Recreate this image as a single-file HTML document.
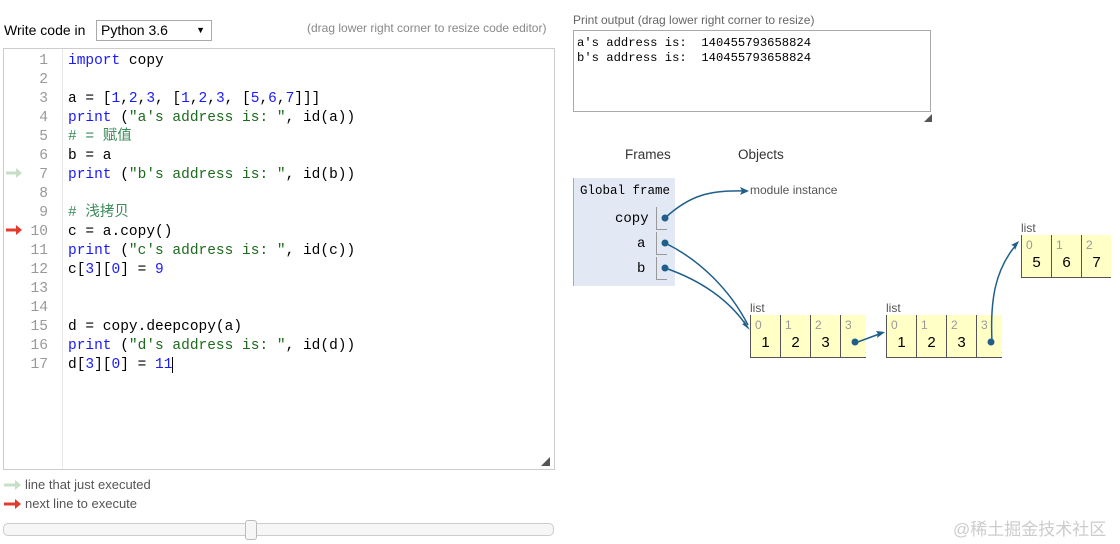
<!DOCTYPE html><html><head><meta charset="utf-8"><style>
body{margin:0;width:1120px;height:544px;background:#fff;position:relative;overflow:hidden;font-family:"Liberation Sans","Noto Sans CJK SC",sans-serif}
.a{position:absolute;white-space:pre}
.m{font-family:"Liberation Mono","Noto Sans CJK SC",monospace}
.ln{position:absolute;left:14px;width:34px;text-align:right;color:#999;font-family:"Liberation Mono",monospace;font-size:14.6px;line-height:19px}
.cl{position:absolute;left:68px;font-family:"Liberation Mono","Noto Sans CJK SC",monospace;font-size:14.5px;line-height:19px;height:19px;color:#000;white-space:pre}
.k{color:#1a1aff}.n{color:#1a1aff}.s{color:#1d6b1d}.c{color:#3b8a5a}
.cell{position:absolute;height:42px;border-left:1px solid #555;border-bottom:1px solid #555;background:#ffffc6;width:29px}
.cell i{position:absolute;left:4px;top:3px;font-style:normal;font-size:12px;color:#999}
.cell b{position:absolute;left:0;right:0;top:19px;text-align:center;font-weight:normal;font-size:15px;font-family:"Liberation Sans",sans-serif}
.lbl{position:absolute;font-size:12px;color:#555}
</style></head><body>
<div class="a" style="left:4px;top:22px;font-size:14px;color:#000">Write code in</div>
<div class="a" style="left:96px;top:20px;border:1px solid #aaa;font-size:14px;line-height:19px;padding-left:4px;box-sizing:border-box;width:116px;height:21px">Python 3.6<span style="position:absolute;right:6px;font-size:9px">▼</span></div>
<div class="a" style="left:307px;top:21px;font-size:12px;color:#888">(drag lower right corner to resize code editor)</div>
<div class="a" style="left:3px;top:48px;width:550px;height:420px;border:1px solid #ccc"></div>
<div class="a" style="left:62px;top:49px;width:1px;height:420px;background:#e8e8e8"></div>
<div class="a" style="left:541px;top:455px;font-size:9px;color:#555">◢</div>
<div class="a" style="left:0;top:2px;width:560px;height:400px">
<div class="ln" style="top:50px">1</div><div class="ln" style="top:69px">2</div><div class="ln" style="top:88px">3</div><div class="ln" style="top:107px">4</div><div class="ln" style="top:126px">5</div><div class="ln" style="top:145px">6</div><div class="ln" style="top:164px">7</div><div class="ln" style="top:183px">8</div><div class="ln" style="top:202px">9</div><div class="ln" style="top:221px">10</div><div class="ln" style="top:240px">11</div><div class="ln" style="top:259px">12</div><div class="ln" style="top:278px">13</div><div class="ln" style="top:297px">14</div><div class="ln" style="top:316px">15</div><div class="ln" style="top:335px">16</div><div class="ln" style="top:354px">17</div>
<div class="cl" style="top:50px"><span class="k">import</span> copy</div>
<div class="cl" style="top:88px">a = [<span class="n">1</span>,<span class="n">2</span>,<span class="n">3</span>, [<span class="n">1</span>,<span class="n">2</span>,<span class="n">3</span>, [<span class="n">5</span>,<span class="n">6</span>,<span class="n">7</span>]]]</div>
<div class="cl" style="top:107px"><span class="k">print</span> (<span class="s">"a's address is: "</span>, id(a))</div>
<div class="cl c" style="top:126px"># = 赋值</div>
<div class="cl" style="top:145px">b = a</div>
<div class="cl" style="top:164px"><span class="k">print</span> (<span class="s">"b's address is: "</span>, id(b))</div>
<div class="cl c" style="top:202px"># 浅拷贝</div>
<div class="cl" style="top:221px">c = a.copy()</div>
<div class="cl" style="top:240px"><span class="k">print</span> (<span class="s">"c's address is: "</span>, id(c))</div>
<div class="cl" style="top:259px">c[<span class="n">3</span>][<span class="n">0</span>] = <span class="n">9</span></div>
<div class="cl" style="top:316px">d = copy.deepcopy(a)</div>
<div class="cl" style="top:335px"><span class="k">print</span> (<span class="s">"d's address is: "</span>, id(d))</div>
<div class="cl" style="top:354px">d[<span class="n">3</span>][<span class="n">0</span>] = <span class="n">11</span><span style="border-left:1px solid #000"></span></div>
</div>
<svg class="a" style="left:0;top:0" width="1120" height="544">
<path d="M6 173h11" stroke="#c6dfc6" stroke-width="3"/><path d="M16 168l6 5-6 5z" fill="#c6dfc6"/>
<path d="M6 230h11" stroke="#e33b2e" stroke-width="3"/><path d="M16 225l6 5-6 5z" fill="#e33b2e"/>
<path d="M4 485h12" stroke="#c6dfc6" stroke-width="3"/><path d="M15 480l6 5-6 5z" fill="#c6dfc6"/>
<path d="M4 504h12" stroke="#e33b2e" stroke-width="3"/><path d="M15 499l6 5-6 5z" fill="#e33b2e"/>
</svg>
<div class="a" style="left:25px;top:477px;font-size:13px;color:#555">line that just executed</div>
<div class="a" style="left:25px;top:496px;font-size:13px;color:#555">next line to execute</div>
<div class="a" style="left:3px;top:523px;width:549px;height:11px;border:1px solid #ccc;border-radius:5px;background:#f6f6f6"></div>
<div class="a" style="left:245px;top:520px;width:10px;height:18px;border:1px solid #bbb;border-radius:3px;background:#f6f6f6"></div>
<div class="a" style="left:573px;top:13px;font-size:12px;color:#666">Print output (drag lower right corner to resize)</div>
<div class="a m" style="left:573px;top:30px;width:358px;height:82px;border:1px solid #aaa;font-size:12.2px;line-height:15px;padding:5px 3px;box-sizing:border-box">a's address is:  140455793658824
b's address is:  140455793658824</div>
<div class="a" style="left:924px;top:113px;font-size:8px;color:#555">◢</div>
<div class="a" style="left:625px;top:147px;font-size:13.5px;color:#333">Frames</div>
<div class="a" style="left:738px;top:147px;font-size:13.5px;color:#333">Objects</div>
<div class="a" style="left:573px;top:178px;width:101px;height:108px;background:#e2e9f4;border-left:1px solid #aaa"></div>
<div class="a m" style="left:580px;top:184px;font-size:12.5px">Global frame</div>
<div class="a m" style="left:615px;top:211px;font-size:14px">copy</div>
<div class="a m" style="left:637px;top:236px;font-size:14px">a</div>
<div class="a m" style="left:637px;top:261px;font-size:14px">b</div>
<div class="a" style="left:656px;top:207px;width:10px;height:22px;border-left:1px solid #999;border-bottom:1px solid #999"></div>
<div class="a" style="left:656px;top:232px;width:10px;height:22px;border-left:1px solid #999;border-bottom:1px solid #999"></div>
<div class="a" style="left:656px;top:257px;width:10px;height:22px;border-left:1px solid #999;border-bottom:1px solid #999"></div>
<div class="a" style="left:750px;top:183px;font-size:12px;color:#555">module instance</div>
<div class="lbl" style="left:750px;top:301px">list</div>
<div class="cell" style="left:750px;top:315px"><i>0</i><b>1</b></div><div class="cell" style="left:780px;top:315px"><i>1</i><b>2</b></div><div class="cell" style="left:810px;top:315px"><i>2</i><b>3</b></div><div class="cell" style="left:840px;top:315px;width:25px"><i>3</i></div>
<div class="lbl" style="left:886px;top:301px">list</div>
<div class="cell" style="left:886px;top:315px"><i>0</i><b>1</b></div><div class="cell" style="left:916px;top:315px"><i>1</i><b>2</b></div><div class="cell" style="left:946px;top:315px"><i>2</i><b>3</b></div><div class="cell" style="left:976px;top:315px;width:25px"><i>3</i></div>
<div class="lbl" style="left:1021px;top:221px">list</div>
<div class="cell" style="left:1021px;top:235px"><i>0</i><b>5</b></div><div class="cell" style="left:1051px;top:235px"><i>1</i><b>6</b></div><div class="cell" style="left:1081px;top:235px"><i>2</i><b>7</b></div>
<svg class="a" style="left:0;top:0" width="1120" height="544">
<g stroke="#1f5f8a" stroke-width="1.5" fill="none">
<path d="M665 218C690 195 710 190 745 191"/>
<path d="M665 243C700 260 730 290 748 325"/>
<path d="M665 268C700 280 730 300 748 328"/>
<path d="M855 343L882 333"/>
<path d="M992 342C990 300 995 270 1016 245"/>
</g>
<g fill="#1f5f8a">
<circle cx="665" cy="218" r="3.5"/><circle cx="665" cy="243" r="3.5"/><circle cx="665" cy="268" r="3.5"/>
<circle cx="855" cy="342" r="3.5"/><circle cx="991" cy="342" r="3.5"/>
<path d="M749 191l-9-4 2 4-2 4z"/>
<path d="M750 330l-8-6 3-1-1-3z"/>
<path d="M885 332l-9-1 2 3-1 4z"/>
<path d="M1019 241l-8 4 3 1 1 4z"/>
</g></svg>
<div class="a" style="left:953px;top:515px;font-size:17px;color:#ccc">@稀土掘金技术社区</div>
</body></html>
